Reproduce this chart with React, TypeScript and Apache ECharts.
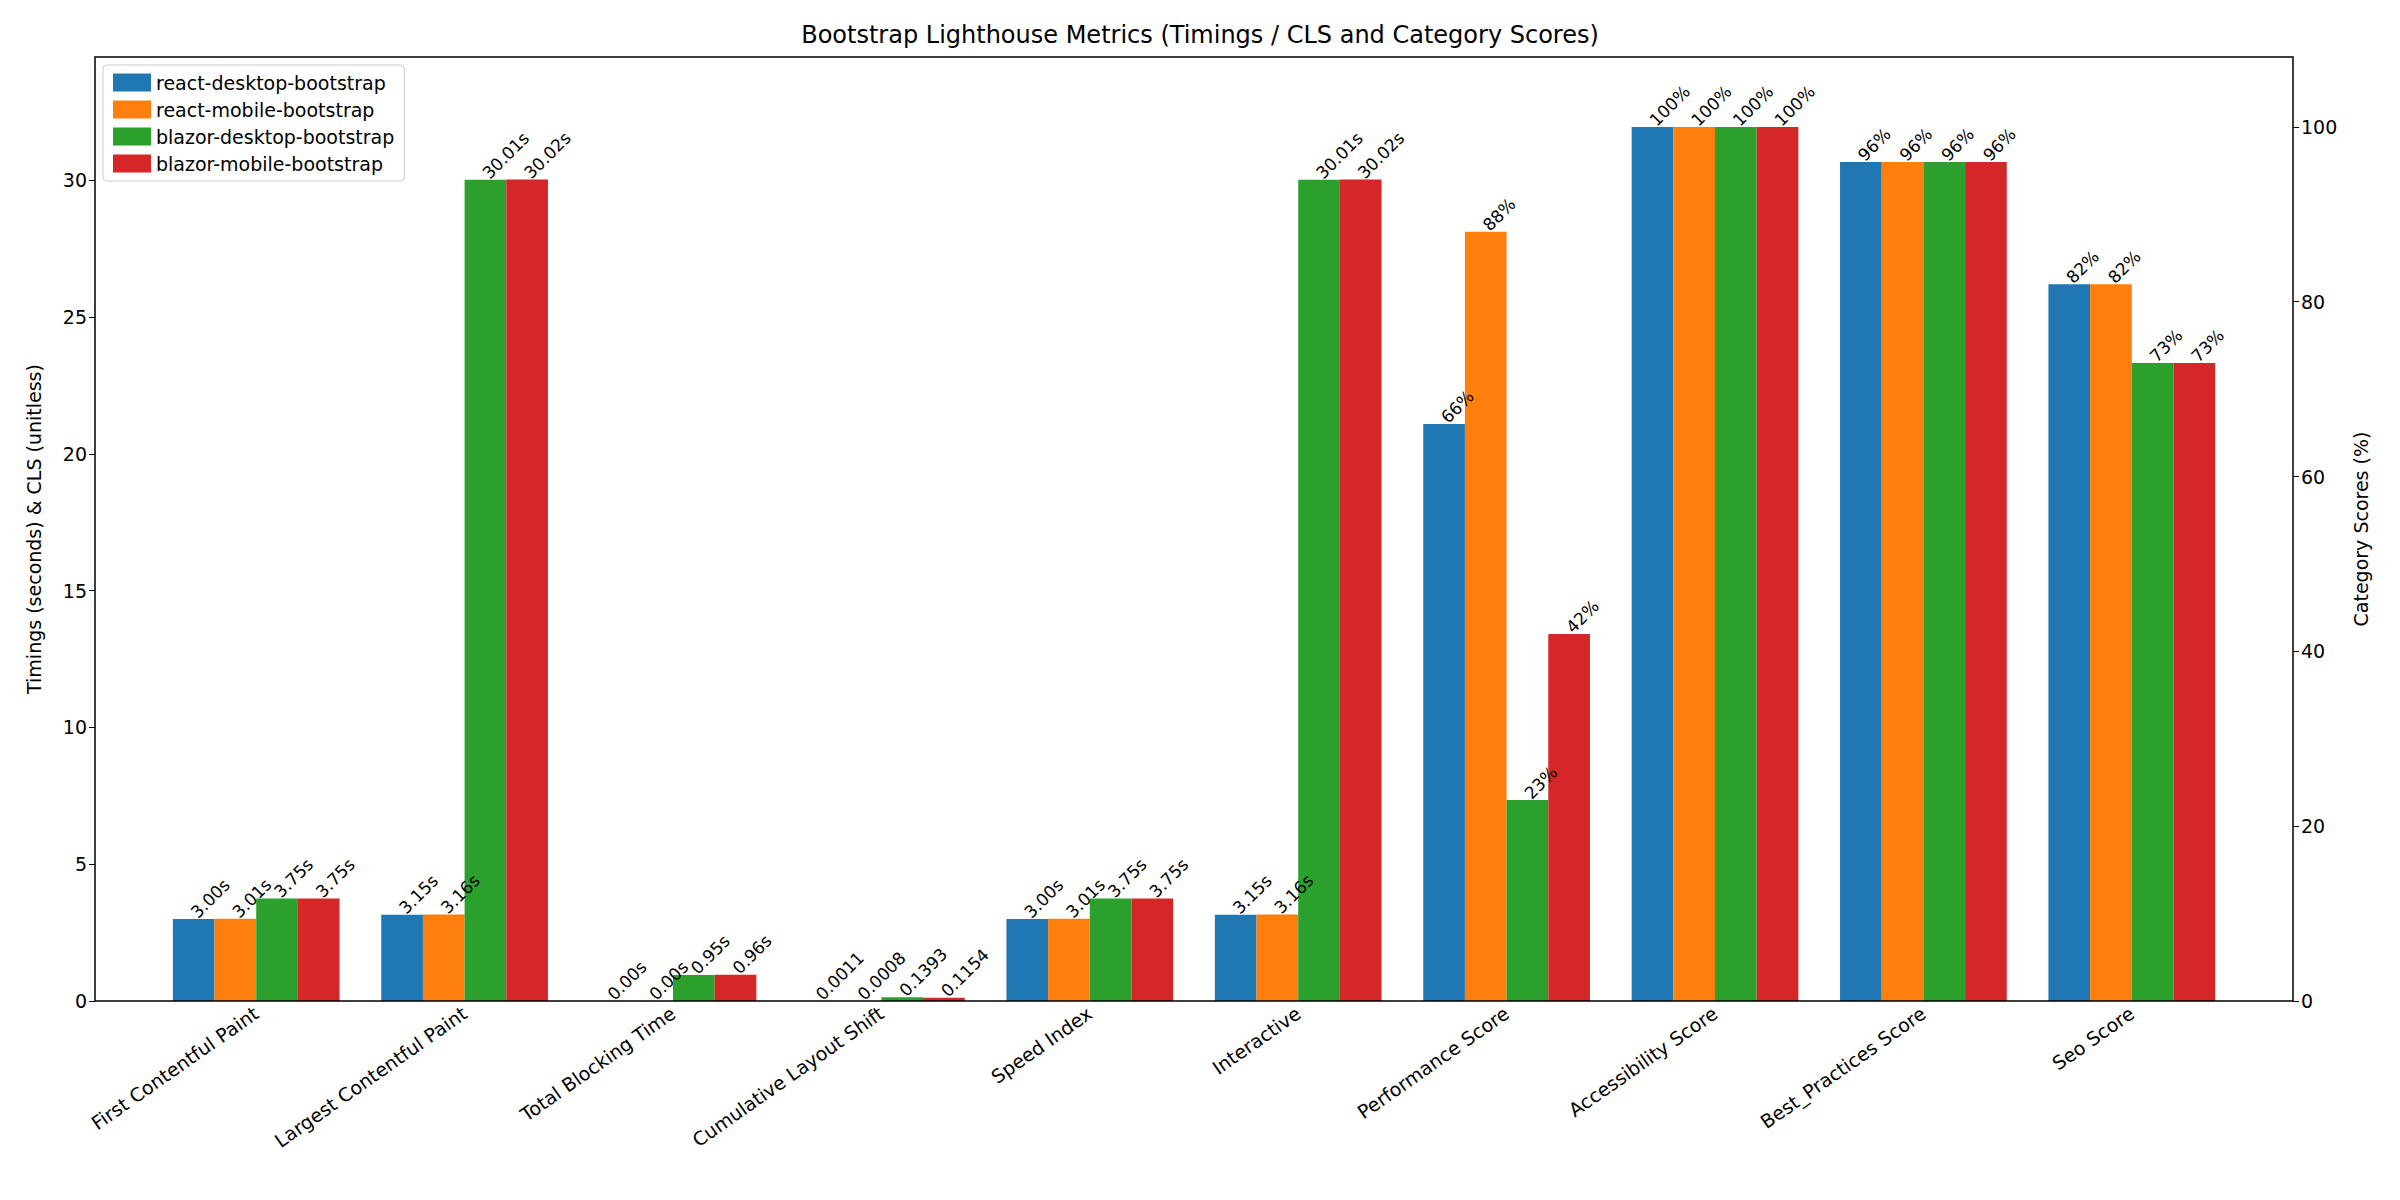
import React, { useEffect, useRef } from 'react';
import * as echarts from 'echarts';

const categories = [
  'First Contentful Paint', 'Largest Contentful Paint', 'Total Blocking Time',
  'Cumulative Layout Shift', 'Speed Index', 'Interactive',
  'Performance Score', 'Accessibility Score', 'Best_Practices Score', 'Seo Score',
];
const seriesNames = ['react-desktop-bootstrap', 'react-mobile-bootstrap', 'blazor-desktop-bootstrap', 'blazor-mobile-bootstrap'];
const colors = ['#1f77b4', '#ff7f0e', '#2ca02c', '#d62728'];

// timings (s) and CLS for the first 6 categories
const timings = [
  [3.0, 3.15, 0.0, 0.0011, 3.0, 3.15],
  [3.01, 3.16, 0.0, 0.0008, 3.01, 3.16],
  [3.75, 30.01, 0.95, 0.1393, 3.75, 30.01],
  [3.75, 30.02, 0.96, 0.1154, 3.75, 30.02],
];
// category scores (%) for the last 4 categories
const scores = [
  [66, 100, 96, 82],
  [88, 100, 96, 82],
  [23, 100, 96, 73],
  [42, 100, 96, 73],
];

const labelBase = {
  show: true,
  position: 'top',
  rotate: 45,
  align: 'left',
  verticalAlign: 'middle',
  distance: 4,
  fontSize: 17,
  color: '#000',
  fontFamily: 'DejaVu Sans',
};

// frame of the plot area, and inner padding of the category range
const FL = 95, FR = 107, FT = 57, FB = 199, PAD = 57;

const App: React.FC = () => {
  const ref = useRef<HTMLDivElement>(null);

  useEffect(() => {
    document.body.style.margin = '0';
    if (!ref.current) return;
    const chart = echarts.init(ref.current, undefined, { renderer: 'svg' });
    const font = 'DejaVu Sans';
    const series: any[] = [];
    seriesNames.forEach((name, i) => {
      series.push({
        name, type: 'bar', xAxisIndex: 0, yAxisIndex: 0,
        itemStyle: { color: colors[i] },
        barGap: '0%', barCategoryGap: '20%',
        data: categories.map((_, c) => (c < 6 ? timings[i][c] : null)),
        label: {
          ...labelBase,
          formatter: (p: any) => (p.dataIndex === 3 ? p.value.toFixed(4) : p.value.toFixed(2) + 's'),
        },
      });
    });
    seriesNames.forEach((name, i) => {
      series.push({
        name, type: 'bar', xAxisIndex: 1, yAxisIndex: 1,
        itemStyle: { color: colors[i] },
        barGap: '0%', barCategoryGap: '20%',
        data: categories.map((_, c) => (c >= 6 ? scores[i][c - 6] : null)),
        label: { ...labelBase, formatter: (p: any) => p.value + '%' },
      });
    });
    const yCommon = {
      type: 'value', offset: PAD,
      nameLocation: 'middle',
      nameTextStyle: { fontSize: 19, color: '#000' },
      axisLine: { show: false },
      axisTick: { show: true, length: 6, lineStyle: { color: '#000' } },
      axisLabel: { fontSize: 19, color: '#000', showMaxLabel: false },
      splitLine: { show: false },
    };
    chart.setOption({
      animation: false,
      textStyle: { fontFamily: font },
      title: {
        text: 'Bootstrap Lighthouse Metrics (Timings / CLS and Category Scores)',
        left: 'center', top: 18,
        textStyle: { fontSize: 24, fontWeight: 'normal', color: '#000', fontFamily: font },
      },
      legend: {
        data: seriesNames, orient: 'vertical', left: 103, top: 65,
        icon: 'rect', itemWidth: 38, itemHeight: 18, itemGap: 8,
        borderColor: '#ccc', borderWidth: 1, borderRadius: 4, padding: [8, 10],
        backgroundColor: '#fff',
        textStyle: { fontSize: 19, color: '#000', fontFamily: font },
      },
      grid: { left: FL + PAD, right: FR + PAD, top: FT, bottom: FB },
      graphic: [{
        type: 'rect', z: 100, silent: true,
        shape: { x: FL, y: FT, width: 2400 - FL - FR, height: 1200 - FT - FB },
        style: { fill: 'none', stroke: '#000', lineWidth: 1.5 },
      }],
      xAxis: [0, 1].map((k) => ({
        type: 'category', data: categories, show: k === 0,
        axisLine: { show: false },
        axisTick: { alignWithLabel: true, lineStyle: { color: '#000' }, length: 6 },
        axisLabel: { rotate: 35, fontSize: 19, color: '#000', margin: 10, interval: 0 },
      })),
      yAxis: [
        { ...yCommon, min: 0, max: 34.5, interval: 5, name: 'Timings (seconds) & CLS (unitless)', nameGap: 52 },
        { ...yCommon, min: 0, max: 108, interval: 20, name: 'Category Scores (%)', nameGap: 58, nameRotate: 90 },
      ],
      series,
    });
    return () => chart.dispose();
  }, []);

  return <div ref={ref} style={{ width: 2400, height: 1200, background: '#fff' }} />;
};

export default App;
